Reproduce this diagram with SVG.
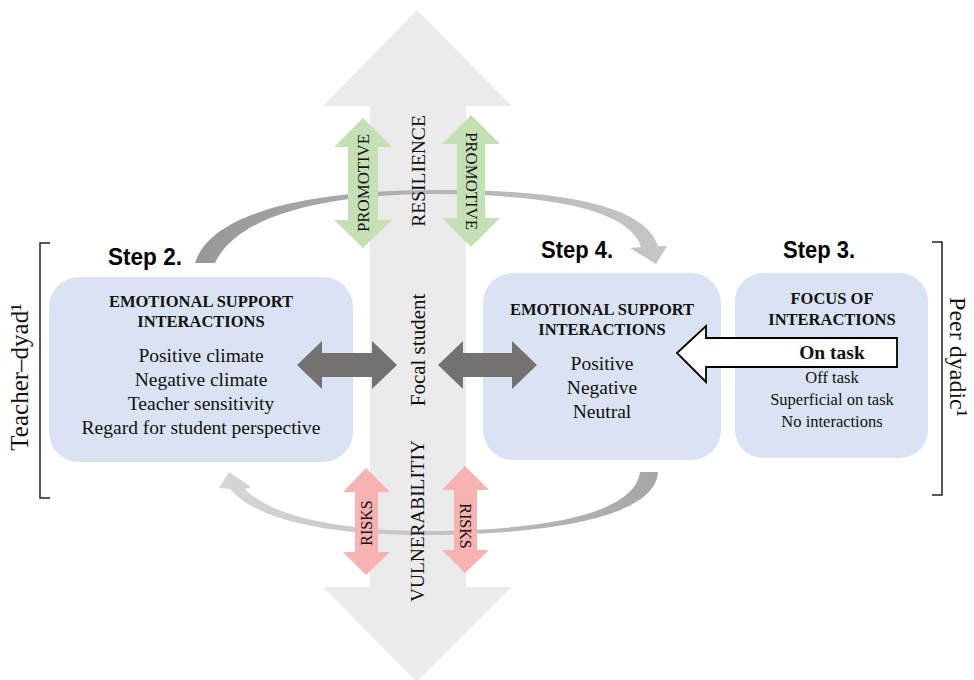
<svg xmlns="http://www.w3.org/2000/svg" width="974" height="680" viewBox="0 0 974 680">
  <defs>
    <style>
      .serif { font-family: "Liberation Serif", "Times New Roman", serif; fill: #111; }
      .step { font-family: "Liberation Sans", Arial, sans-serif; font-weight: bold; font-size: 23px; fill: #000; }
      .head { font-size: 16.5px; font-weight: bold; text-anchor: middle; }
      .body { font-size: 19.5px; text-anchor: middle; }
      .small { font-size: 16.5px; text-anchor: middle; }
      .vert { text-anchor: middle; dominant-baseline: central; }
      .box { fill: #dae3f3; }
      .promo { fill: #c5e0b4; }
      .risk { fill: #f8b2b2; }
      .link { fill: #767171; }
      .bracket { fill: none; stroke: #222; stroke-width: 1.5; }
    </style>
    <linearGradient id="arcTop" x1="195" y1="0" x2="668" y2="0" gradientUnits="userSpaceOnUse">
      <stop offset="0" stop-color="#979797"/>
      <stop offset="0.5" stop-color="#b4b4b4"/>
      <stop offset="1" stop-color="#c6c6c6"/>
    </linearGradient>
    <linearGradient id="arcBottom" x1="219" y1="0" x2="658" y2="0" gradientUnits="userSpaceOnUse">
      <stop offset="0" stop-color="#d6d6d6"/>
      <stop offset="0.5" stop-color="#c2c2c2"/>
      <stop offset="1" stop-color="#a6a6a6"/>
    </linearGradient>
  </defs>

  <!-- central resilience / vulnerability axis -->
  <g id="axis">
    <path d="M417,10 L512,106 L466,106 L466,587 L512,587 L417,682 L323,587 L370,587 L370,106 L323,106 Z" fill="#ebebeb"/>
  </g>

  <g id="connectors">
    <!-- cycle arcs -->
    <path d="M195,263 C210,215 300,191 430,190 C560,189 645,205 658,246 L667,246 L656,264 L630,248 L641,247 C630,210 550,194 430,194 C310,195 235,220 215,263 Z" fill="url(#arcTop)"/>
    <path d="M640,472 L658,472 C656,512 570,534 430,535 C330,536 256,520 230,489 L219,488 L229,472 L251,487 L245,489 C270,516 340,531 430,531 C560,530 635,510 640,472 Z" fill="url(#arcBottom)"/>

    <!-- promotive and risk double arrows -->
    <path class="promo" d="M363,118 L392,147 L378,147 L378,220 L392,220 L363,248 L334,220 L348,220 L348,147 L334,147 Z"/>
    <path class="promo" d="M471,115 L500,144 L485,144 L485,218 L500,218 L471,247 L442,218 L457,218 L457,144 L442,144 Z"/>
    <path class="risk" d="M366,468 L390,492 L378,492 L378,552 L390,552 L366,575 L343,552 L355,552 L355,492 L343,492 Z"/>
    <path class="risk" d="M465,466 L489,490 L477,490 L477,550 L489,550 L465,573 L442,550 L454,550 L454,490 L442,490 Z"/>
  </g>

  <!-- Step 2: teacher-dyad box -->
  <g id="step2">
    <rect class="box" x="49" y="277" width="304" height="185" rx="30"/>
    <text class="step" x="108" y="265" textLength="74" lengthAdjust="spacingAndGlyphs">Step 2.</text>
    <text class="serif head" x="201" y="307">EMOTIONAL SUPPORT</text>
    <text class="serif head" x="201" y="327">INTERACTIONS</text>
    <text class="serif body" x="201" y="362">Positive climate</text>
    <text class="serif body" x="201" y="386">Negative climate</text>
    <text class="serif body" x="201" y="410">Teacher sensitivity</text>
    <text class="serif body" x="201" y="434">Regard for student perspective</text>
  </g>

  <!-- Step 4: peer emotional support box -->
  <g id="step4">
    <rect class="box" x="483" y="273" width="238" height="187" rx="30"/>
    <text class="step" x="541" y="258" textLength="72" lengthAdjust="spacingAndGlyphs">Step 4.</text>
    <text class="serif head" x="602" y="315">EMOTIONAL SUPPORT</text>
    <text class="serif head" x="602" y="335">INTERACTIONS</text>
    <text class="serif body" x="602" y="370">Positive</text>
    <text class="serif body" x="602" y="394">Negative</text>
    <text class="serif body" x="602" y="418">Neutral</text>
  </g>

  <!-- Step 3: focus of interactions box -->
  <g id="step3">
    <rect class="box" x="735" y="273" width="193" height="185" rx="28"/>
    <text class="step" x="783" y="258" textLength="72" lengthAdjust="spacingAndGlyphs">Step 3.</text>
    <text class="serif head" x="832" y="304">FOCUS OF</text>
    <text class="serif head" x="832" y="325">INTERACTIONS</text>
  </g>

  <g id="links">
    <!-- exchanges between the focal student and each dyad -->
    <path class="link" d="M297,365 L322,341 L322,353 L372,353 L372,341 L397,365 L372,389 L372,377 L322,377 L322,389 Z"/>
    <path class="link" d="M438,365 L463,341 L463,353 L512,353 L512,341 L537,365 L512,389 L512,377 L463,377 L463,389 Z"/>
    <!-- on-task focus feeding step 4 -->
    <path d="M677,353 L706,326 L706,338 L897,338 L897,367 L706,367 L706,382 Z" fill="#fff" stroke="#000" stroke-width="1.8" stroke-linejoin="miter"/>
  </g>

  <g id="step3-items">
    <text class="serif body" x="832" y="359" font-weight="bold">On task</text>
    <text class="serif small" x="832" y="383">Off task</text>
    <text class="serif small" x="832" y="405">Superficial on task</text>
    <text class="serif small" x="832" y="427">No interactions</text>
  </g>

  <!-- axis labels -->
  <g id="axis-labels">
    <text class="serif vert" font-size="16" textLength="98" lengthAdjust="spacingAndGlyphs" transform="translate(363,183) rotate(-90)">PROMOTIVE</text>
    <text class="serif vert" font-size="16" textLength="98" lengthAdjust="spacingAndGlyphs" transform="translate(471,181) rotate(90)">PROMOTIVE</text>
    <text class="serif vert" font-size="19.5" transform="translate(418,171) rotate(-90)">RESILIENCE</text>
    <text class="serif vert" font-size="21" transform="translate(418,350) rotate(-90)">Focal student</text>
    <text class="serif vert" font-size="18" textLength="162" lengthAdjust="spacingAndGlyphs" transform="translate(418,521) rotate(-90)">VULNERABILITIY</text>
    <text class="serif vert" font-size="16" transform="translate(366,523) rotate(-90)">RISKS</text>
    <text class="serif vert" font-size="16" transform="translate(465,526) rotate(90)">RISKS</text>
  </g>

  <!-- dyad brackets -->
  <g id="teacher-dyad">
    <path class="bracket" d="M50,243 L40,243 L40,498 L50,498"/>
    <text class="serif vert" font-size="25" transform="translate(19,377) rotate(-90)">Teacher–dyad¹</text>
  </g>
  <g id="peer-dyadic">
    <path class="bracket" d="M932,242 L942,242 L942,495 L932,495"/>
    <text class="serif vert" font-size="24" transform="translate(958,357) rotate(90)">Peer dyadic¹</text>
  </g>
</svg>
